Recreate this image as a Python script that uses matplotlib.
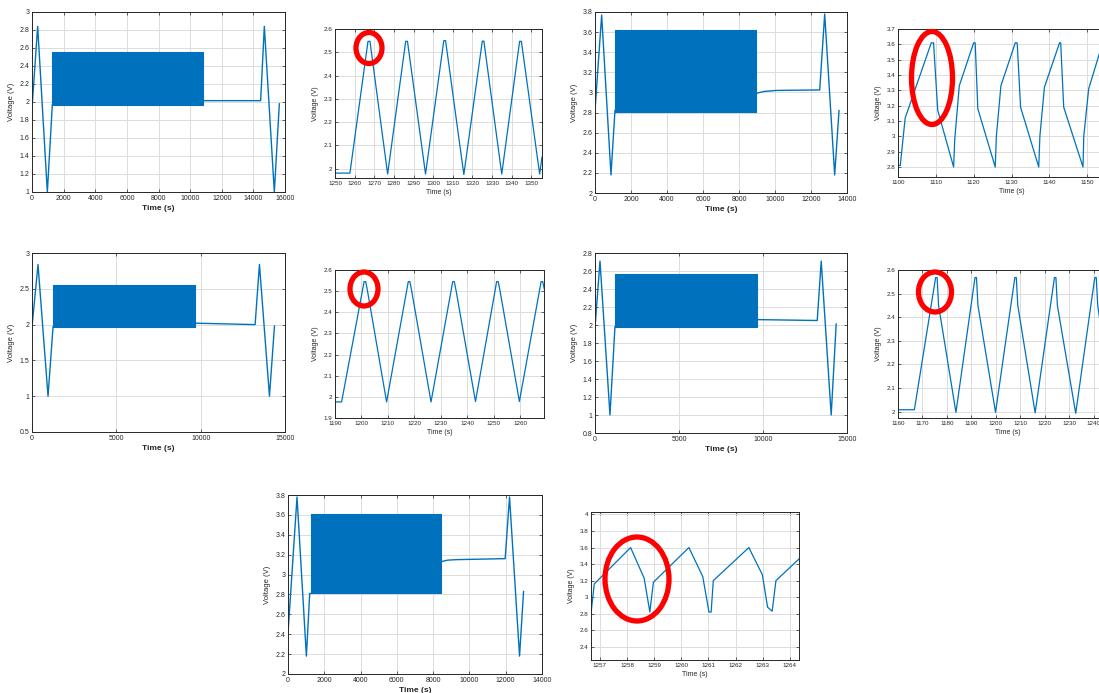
import matplotlib
matplotlib.use("Agg")
import matplotlib.pyplot as plt
from matplotlib.patches import Ellipse
from matplotlib.ticker import MultipleLocator, FormatStrFormatter
import numpy as np

plt.rcParams['font.family'] = ['Liberation Sans', 'DejaVu Sans']

LINE = '#0072BD'
W, H = 1099, 693

# ---- full test profiles (time in s, voltage in V) ----
# cell A
a_pre_t = [0, 358, 970, 1286]
a_pre_v = [1.93, 2.84, 1.0, 1.97]
a_band = (1286, 10836, 1.97, 2.555)
a_post_t = [10836, 14460, 14693, 15325, 15642]
a_post_v = [2.015, 2.015, 2.84, 1.0, 1.98]

# cell B
b_pre_t = [0, 370, 888, 1110]
b_pre_v = [2.82, 3.77, 2.18, 2.82]
b_band = (1110, 8933, 2.805, 3.617)
b_post_t = [8933, 9400, 10080, 12484, 12761, 13316, 13557]
b_post_v = [2.99, 3.01, 3.02, 3.025, 3.78, 2.18, 2.82]

# cell C
c_pre_t = [0, 356, 950, 1248]
c_pre_v = [1.97, 2.84, 1.0, 1.97]
c_band = (1248, 9663, 1.97, 2.548)
c_post_t = [9663, 13228, 13485, 14079, 14376]
c_post_v = [2.02, 2.0, 2.84, 1.0, 1.98]

# cell D
d_pre_t = [0, 297, 891, 1188]
d_pre_v = [1.97, 2.71, 1.0, 1.98]
d_band = (1188, 9663, 1.978, 2.57)
d_post_t = [9663, 13228, 13465, 14059, 14356]
d_post_v = [2.06, 2.05, 2.71, 1.0, 2.01]

# cell E
e_pre_t = [0, 497, 1013, 1197, 1250]
e_pre_v = [2.41, 3.78, 2.18, 2.81, 2.81]
e_band = (1250, 8450, 2.81, 3.61)
e_post_t = [8450, 8800, 9300, 11970, 12210, 12762, 12983]
e_post_v = [3.13, 3.145, 3.15, 3.16, 3.78, 2.18, 2.83]

# ---- close-ups of the first cycles ----
a_zoom_t = [1250, 1257.6, 1266.8, 1267.8, 1276.8, 1286.0, 1286.9, 1296.1, 1305.4,
            1306.3, 1315.6, 1325.0, 1325.8, 1334.9, 1344.0, 1344.9, 1354.2, 1355.4]
a_zoom_v = [1.981, 1.981, 2.547, 2.547, 1.977, 2.547, 2.547, 1.977, 2.55,
            2.55, 1.975, 2.548, 2.548, 1.977, 2.547, 2.547, 1.977, 2.05]

b_zoom_t = [1100, 1100.6, 1101.9, 1108.8, 1109.4, 1110.5, 1114.7, 1115.0, 1116.2,
            1120.0, 1120.4, 1121.1, 1125.7, 1126.0, 1127.2, 1131.0, 1131.5, 1132.4,
            1137.2, 1137.5, 1138.7, 1142.7, 1143.0, 1143.8, 1148.9, 1149.1, 1150.4,
            1154.1, 1154.5, 1155.3]
b_zoom_v = [2.81, 2.81, 3.12, 3.61, 3.61, 3.17, 2.80, 2.98, 3.33,
            3.61, 3.61, 3.18, 2.80, 3.0, 3.33, 3.61, 3.61, 3.19,
            2.80, 3.0, 3.32, 3.61, 3.61, 3.19, 2.80, 3.0, 3.31,
            3.61, 3.61, 3.19]

c_zoom_t = [1190, 1192.5, 1201.0, 1201.6, 1202.3, 1209.5, 1217.7, 1218.3, 1219.0,
            1226.3, 1234.5, 1235.1, 1235.8, 1243.1, 1251.1, 1251.7, 1252.4, 1259.7,
            1267.9, 1268.5, 1269.3]
c_zoom_v = [1.976, 1.976, 2.545, 2.545, 2.50, 1.976, 2.545, 2.545, 2.50,
            1.976, 2.545, 2.545, 2.50, 1.978, 2.545, 2.545, 2.50, 1.978,
            2.545, 2.545, 2.50]

d_zoom_t = [1160, 1166.7, 1175.4, 1176.0, 1176.6, 1183.7, 1191.5, 1192.1, 1192.7,
            1199.9, 1207.8, 1208.4, 1209.0, 1216.1, 1224.0, 1224.6, 1225.2, 1232.7,
            1240.5, 1241.1, 1241.7, 1248]
d_zoom_v = [2.008, 2.008, 2.568, 2.568, 2.45, 1.997, 2.568, 2.568, 2.45,
            1.997, 2.568, 2.568, 2.45, 1.995, 2.568, 2.568, 2.45, 1.993,
            2.568, 2.568, 2.45, 2.0]

e_zoom_t = [1256.67, 1256.79, 1258.13, 1258.63, 1258.84, 1258.97, 1260.28, 1260.79,
            1261.02, 1261.10, 1261.18, 1262.49, 1262.99, 1263.18, 1263.35, 1263.49, 1264.4]
e_zoom_v = [2.80, 3.16, 3.60, 3.23, 2.82, 3.18, 3.60, 3.25,
            2.82, 2.82, 3.20, 3.60, 3.27, 2.88, 2.83, 3.20, 3.48]


def add_axes_px(fig, left, top, right, bottom):
    """Place an axes using pixel edges measured from the top-left corner."""
    return fig.add_axes([left / W, 1 - bottom / H, (right - left) / W, (bottom - top) / H])


def style_axes(ax, bold_xlabel):
    ax.grid(True, color='#dcdcdc', linewidth=0.7)
    ax.set_axisbelow(True)
    ax.tick_params(direction='in', length=2, width=0.5, labelsize=5,
                   top=True, right=True, pad=2, colors='#262626')
    for s in ax.spines.values():
        s.set_linewidth(0.7)
        s.set_color('#262626')
    ax.yaxis.set_major_formatter(FormatStrFormatter('%g'))
    ax.xaxis.set_major_formatter(FormatStrFormatter('%g'))
    ax.set_xlabel('Time (s)', fontsize=6, fontweight='bold' if bold_xlabel else 'normal',
                  labelpad=2, color='#262626')
    ax.set_ylabel('Voltage (V)', fontsize=5.5, labelpad=3, color='#262626')


def full_profile(fig, box, pre_t, pre_v, band, post_t, post_v, xlim, xstep, ylim, ystep):
    ax = add_axes_px(fig, *box)
    t0, t1, lo, hi = band
    ax.plot(pre_t, pre_v, color=LINE, linewidth=1.0)
    ax.fill_between([t0, t1], [lo, lo], [hi, hi], color=LINE, linewidth=0.8, edgecolor=LINE)
    ax.plot(post_t, post_v, color=LINE, linewidth=1.0)
    ax.set_xlim(*xlim)
    ax.set_ylim(*ylim)
    ax.xaxis.set_major_locator(MultipleLocator(xstep))
    ax.yaxis.set_major_locator(MultipleLocator(ystep))
    style_axes(ax, True)
    return ax


def close_up(fig, box, t, v, xlim, xstep, ylim, ystep, xlast=None):
    ax = add_axes_px(fig, *box)
    ax.plot(t, v, color=LINE, linewidth=0.9)
    ax.set_xlim(*xlim)
    ax.set_ylim(*ylim)
    if xlast is None:
        ax.xaxis.set_major_locator(MultipleLocator(xstep))
    else:
        # panels running off the page edge only label the ticks that stay visible
        ticks = np.arange(np.ceil(xlim[0] / xstep) * xstep, xlast + xstep / 2, xstep)
        ax.set_xticks(ticks)
    ax.yaxis.set_major_locator(MultipleLocator(ystep))
    style_axes(ax, False)
    ax.xaxis.label.set_fontsize(5)
    ax.yaxis.label.set_fontsize(5)
    ax.tick_params(labelsize=4.5)
    return ax


def ring(fig, cx, cy, w, h):
    """Red highlight ellipse, given in figure pixels."""
    e = Ellipse((cx / W, 1 - cy / H), w / W, h / H, transform=fig.transFigure,
                fill=False, edgecolor='#ff0000', linewidth=3.8, zorder=10)
    fig.add_artist(e)


fig = plt.figure(figsize=(W / 100, H / 100), dpi=100)

full_profile(fig, (32, 12, 285, 192), a_pre_t, a_pre_v, a_band, a_post_t, a_post_v,
             (0, 16000), 2000, (1, 3), 0.2)
close_up(fig, (335, 29, 542, 178), a_zoom_t, a_zoom_v, (1250, 1355.4), 10, (1.96, 2.6), 0.1)

full_profile(fig, (595, 12, 847, 193), b_pre_t, b_pre_v, b_band, b_post_t, b_post_v,
             (0, 14000), 2000, (2, 3.8), 0.2)
close_up(fig, (898, 29, 1125, 177), b_zoom_t, b_zoom_v, (1100, 1160), 10, (2.735, 3.7), 0.1,
         xlast=1150)

full_profile(fig, (32, 253, 285, 432), c_pre_t, c_pre_v, c_band, c_post_t, c_post_v,
             (0, 15000), 5000, (0.5, 3), 0.5)
close_up(fig, (335, 270, 544, 418), c_zoom_t, c_zoom_v, (1190, 1269), 10, (1.9, 2.6), 0.1)

full_profile(fig, (595, 253, 847, 433), d_pre_t, d_pre_v, d_band, d_post_t, d_post_v,
             (0, 15000), 5000, (0.8, 2.8), 0.2)
close_up(fig, (898, 270, 1118, 418), d_zoom_t, d_zoom_v, (1160, 1250), 10, (1.973, 2.6), 0.1,
         xlast=1240)

full_profile(fig, (288, 495, 542, 674), e_pre_t, e_pre_v, e_band, e_post_t, e_post_v,
             (0, 14000), 2000, (2, 3.8), 0.2)
close_up(fig, (591, 512, 799, 660), e_zoom_t, e_zoom_v, (1256.67, 1264.34), 1, (2.24, 4.03), 0.2)

ring(fig, 369, 48, 26, 31)
ring(fig, 932, 78, 41, 93)
ring(fig, 364, 289, 28, 34)
ring(fig, 935, 292, 33, 40)
ring(fig, 637, 579, 64, 84)

fig.savefig('out.png', dpi=100)
